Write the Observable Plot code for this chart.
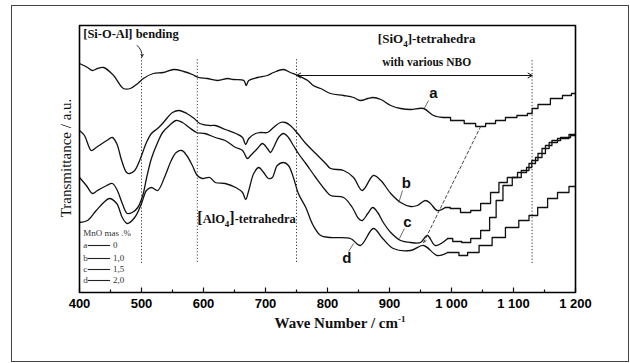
<!DOCTYPE html>
<html><head><meta charset="utf-8">
<script src="https://cdn.jsdelivr.net/npm/d3@7"></script>
<script src="https://cdn.jsdelivr.net/npm/@observablehq/plot@0.6"></script>
<style>
body{margin:0;background:#fff;}
#wrap{position:relative;width:630px;height:363px;overflow:hidden;}
#border{position:absolute;left:11px;top:5px;width:618px;height:357px;border:1.5px solid #444;box-sizing:border-box;pointer-events:none;}
</style></head><body>
<div id="wrap"><div id="chart"></div><div id="border"></div></div>
<script>
// ---- data: [wave number (cm-1), transmittance (a.u.)] ----
const curveA = [[400,229],[413,225],[421,222],[429,224],[439,225],[455,217],[471,204],[482,204],[494,209],[503,214],[519,219],[535,220],[552,223],[568,221],[582,218],[592,215],[606,214],[623,212],[639,214],[648,213],[665,212],[669,207],[673,212],[687,215],[703,217],[713,220],[729,223],[740,220],[752,217],[768,212],[777,207],[789,204],[805,199],[826,197],[842,195],[853,192],[865,194],[873,195],[886,193],[902,187],[918,184],[934,183],[955,184],[971,177],[987,175],[1010,172],[1031,169],[1047,166],[1063,169],[1079,172],[1095,175],[1116,177],[1129,179],[1131,184],[1148,188],[1171,194],[1187,197],[1200,199]];
const curveB = [[400,162],[408,157],[419,142],[427,145],[444,152],[453,155],[460,149],[468,132],[476,120],[481,119],[489,122],[497,132],[508,150],[516,159],[526,164],[534,169],[542,175],[550,180],[561,182],[573,179],[585,174],[594,169],[610,167],[619,167],[635,163],[652,159],[663,155],[668,148],[673,154],[684,159],[692,160],[703,160],[713,165],[724,170],[732,170],[740,167],[752,159],[765,149],[781,139],[797,129],[805,124],[826,122],[842,115],[856,102],[874,117],[886,112],[902,99],[918,90],[934,86],[945,87],[958,92],[966,89],[977,82],[990,85],[1006,84],[1023,80],[1039,82],[1055,89],[1071,100],[1082,110],[1098,115],[1115,120],[1127,125],[1132,132],[1147,139],[1156,147],[1168,152],[1184,155],[1200,157]];
const curveC = [[400,115],[411,107],[421,99],[429,102],[444,107],[453,109],[461,102],[469,89],[477,79],[485,80],[494,85],[502,97],[508,114],[516,134],[526,150],[534,160],[545,167],[556,172],[566,170],[577,165],[589,160],[602,159],[619,155],[635,152],[652,145],[663,142],[671,134],[676,137],[687,144],[695,149],[703,144],[708,140],[713,145],[721,155],[729,159],[737,155],[745,147],[753,139],[765,129],[781,115],[797,102],[805,97],[826,95],[840,85],[850,74],[856,72],[865,79],[873,85],[881,80],[890,70],[902,60],[918,52],[934,50],[950,50],[961,57],[974,47],[994,54],[1010,51],[1023,50],[1039,54],[1055,62],[1068,75],[1076,92],[1090,107],[1106,115],[1119,122],[1131,129],[1140,135],[1152,144],[1163,150],[1179,154],[1200,158]];
const curveD = [[400,70],[413,72],[427,82],[439,90],[448,94],[460,89],[469,75],[477,69],[489,75],[500,89],[508,102],[516,105],[526,102],[537,115],[548,132],[556,140],[565,142],[573,137],[582,127],[590,117],[598,114],[610,115],[619,110],[635,109],[652,105],[663,100],[668,93],[673,102],[681,119],[689,125],[697,120],[705,114],[711,115],[719,127],[729,130],[737,127],[745,115],[753,99],[765,85],[777,67],[789,57],[805,55],[837,54],[853,47],[874,64],[889,54],[906,44],[934,42],[955,47],[977,37],[994,40],[1006,40],[1018,37],[1034,40],[1055,47],[1076,55],[1098,65],[1119,72],[1131,77],[1147,85],[1163,94],[1179,100],[1200,106]];
const STEP_FROM = 1000; // noisy staircase region of the spectra

const majorTicks = [400,500,600,700,800,900,1000,1100,1200];
const tickLabels = ["400","500","600","700","800","900","1 000","1 100","1 200"];
const minorTicks = [450,550,650,750,850,950,1050,1150];

const frameWave = [400,1200,1200,400,400];
const frameT = [0,0,267,267,0];

const dividerWave = [500,590,750,1130];
const dividerTop = [237,234,234,232];
const dividerBottom = [29,30,30,29];

const noteText = ["[Si-O-Al] bending","[SiO4]-tetrahedra","with various NBO","[AlO4]-tetrahedra"];
const noteWave = [406,960,960,590];
const noteT = [259,254,230,74];
const noteAnchor = ["start","middle","middle","start"];
const noteSize = [12.5,13,11.5,12.5];

const curveNames = ["a","b","c","d"];
const labelWave = [971,927,929,831];
const labelT = [199,109,70,34];
const leaderWave1 = [963,921,924,834];
const leaderT1 = [192,102,64,41];
const leaderWave2 = [956,915,916,842];
const leaderT2 = [184,90,54,49];

const legendTitle = "MnO mas .%";
const legendValues = ["0","1,0","1,5","2,0"];
const legendT = [47,34,23,12];

// ---- build rows ----
const series = [["a",curveA],["b",curveB],["c",curveC],["d",curveD]];
const smoothRows = [], stepRows = [];
for (const [name, pts] of series) {
  const smooth = pts.filter(p => p[0] <= STEP_FROM);
  smooth.forEach(([w,t]) => smoothRows.push({name, w, t}));
  const last = smooth[smooth.length-1];
  stepRows.push({name, w:last[0], t:last[1]});
  pts.filter(p => p[0] > STEP_FROM).forEach(([w,t]) => stepRows.push({name, w, t}));
}
const frameRows = frameWave.map((w,i)=>({w, t:frameT[i]}));
const tickRows = majorTicks.map(w=>({w, len:5})).concat(minorTicks.map(w=>({w, len:3})));
const dividers = dividerWave.map((w,i)=>({w, y1:dividerBottom[i], y2:dividerTop[i]}));
const notes = noteText.map((s,i)=>({s, w:noteWave[i], t:noteT[i], anchor:noteAnchor[i], size:noteSize[i]}));
const notesStart = notes.filter(d=>d.anchor==="start");
const notesMiddle = notes.filter(d=>d.anchor==="middle");
const labels = curveNames.map((s,i)=>({s, w:labelWave[i], t:labelT[i], w1:leaderWave1[i], t1:leaderT1[i], w2:leaderWave2[i], t2:leaderT2[i]}));
const legend = curveNames.map((s,i)=>({s, v:legendValues[i], t:legendT[i]}));
const fmt = d => tickLabels[majorTicks.indexOf(d)];

const ink = "#111";
const plot = Plot.plot({
  width: 630, height: 363,
  marginLeft: 79, marginRight: 55, marginTop: 25, marginBottom: 71,
  x: {domain:[400,1200]},
  y: {domain:[0,267], axis:null},
  style: {fontFamily:"Liberation Serif", fontSize:"12px"},
  marks: [
    Plot.ruleX(dividers, {x:"w", y1:"y1", y2:"y2", stroke:"#222", strokeWidth:0.9, strokeDasharray:"1.2,2"}),
    Plot.line(smoothRows, {x:"w", y:"t", z:"name", curve:"catmull-rom", stroke:ink, strokeWidth:1.3}),
    Plot.line(stepRows, {x:"w", y:"t", z:"name", curve:"step", stroke:ink, strokeWidth:1.3}),
    Plot.arrow([{a:940,b:750},{a:940,b:1130}], {x1:"a", x2:"b", y1:217, y2:217, stroke:ink, strokeWidth:1, headLength:7}),
    Plot.arrow([{w1:1047,t1:166,w2:955,t2:50}], {x1:"w1", y1:"t1", x2:"w2", y2:"t2", stroke:"#333", strokeWidth:0.9, strokeDasharray:"3,2.5", headLength:5}),
    Plot.arrow([{w1:493,t1:247,w2:501,t2:236}], {x1:"w1", y1:"t1", x2:"w2", y2:"t2", bend:25, stroke:ink, strokeWidth:0.9, headLength:4}),
    Plot.text(notesStart, {x:"w", y:"t", text:"s", textAnchor:"start", fontSize:"size", fontWeight:"bold", fill:ink}),
    Plot.text(notesMiddle, {x:"w", y:"t", text:"s", textAnchor:"middle", fontSize:"size", fontWeight:"bold", fill:ink}),
    Plot.link(labels, {x1:"w1", y1:"t1", x2:"w2", y2:"t2", stroke:"#444", strokeWidth:0.8}),
    Plot.text(labels, {x:"w", y:"t", text:"s", fontFamily:"Liberation Sans", fontWeight:"bold", fontSize:15, fill:ink}),
    Plot.text([legendTitle], {x:406, y:59, text:d=>d, textAnchor:"start", fontSize:9, fill:"#333"}),
    Plot.text(legend, {x:406, y:"t", text:"s", textAnchor:"start", fontSize:9, fill:"#333"}),
    Plot.ruleY(legend, {y:"t", x1:414, x2:450, stroke:"#222", strokeWidth:1.1}),
    Plot.text(legend, {x:454, y:"t", text:"v", textAnchor:"start", fontSize:9, fill:"#333"}),
    // inward ticks
    Plot.link(tickRows, {x1:"w", x2:"w", y1:0, y2:"len", stroke:ink, strokeWidth:1.2}),
    Plot.axisX(majorTicks, {tickSize:0, tickPadding:6, tickFormat:fmt, label:null, fontFamily:"Liberation Sans", fontWeight:"bold", fontSize:13}),
    // plot frame
    Plot.line(frameRows, {x:"w", y:"t", stroke:"black", strokeWidth:1.6})
  ]
});
document.getElementById("chart").append(plot);

const svg = d3.select(plot);
svg.selectAll("text").each(function(){
  const el = d3.select(this);
  const txt = this.textContent;
  const m = /^\[(Si|Al)O4\](.*)$/.exec(txt);
  if (m && this.childElementCount === 0) {
    el.text(null);
    el.append("tspan").attr("font-size", m[1]==="Al" ? "16px" : null).text("[");
    el.append("tspan").text(m[1]+"O");
    el.append("tspan").attr("dy","4").attr("font-size","9px").text("4");
    el.append("tspan").attr("dy","-4").attr("font-size", m[1]==="Al" ? "16px" : null).text("]");
    el.append("tspan").text(m[2]);
  }
});
const xt = svg.append("text").attr("x",340).attr("y",328).attr("text-anchor","middle")
  .attr("font-family","Liberation Serif").attr("font-weight","bold").attr("font-size","15px").attr("fill",ink);
xt.append("tspan").text("Wave Number / cm");
xt.append("tspan").attr("dy","-6").attr("font-size","9px").text("-1");
svg.append("text").attr("transform","translate(71,158) rotate(-90)").attr("text-anchor","middle")
  .attr("font-family","Liberation Serif").attr("font-size","15px").attr("fill",ink).text("Transmittance / a.u.");
</script>
</body></html>
